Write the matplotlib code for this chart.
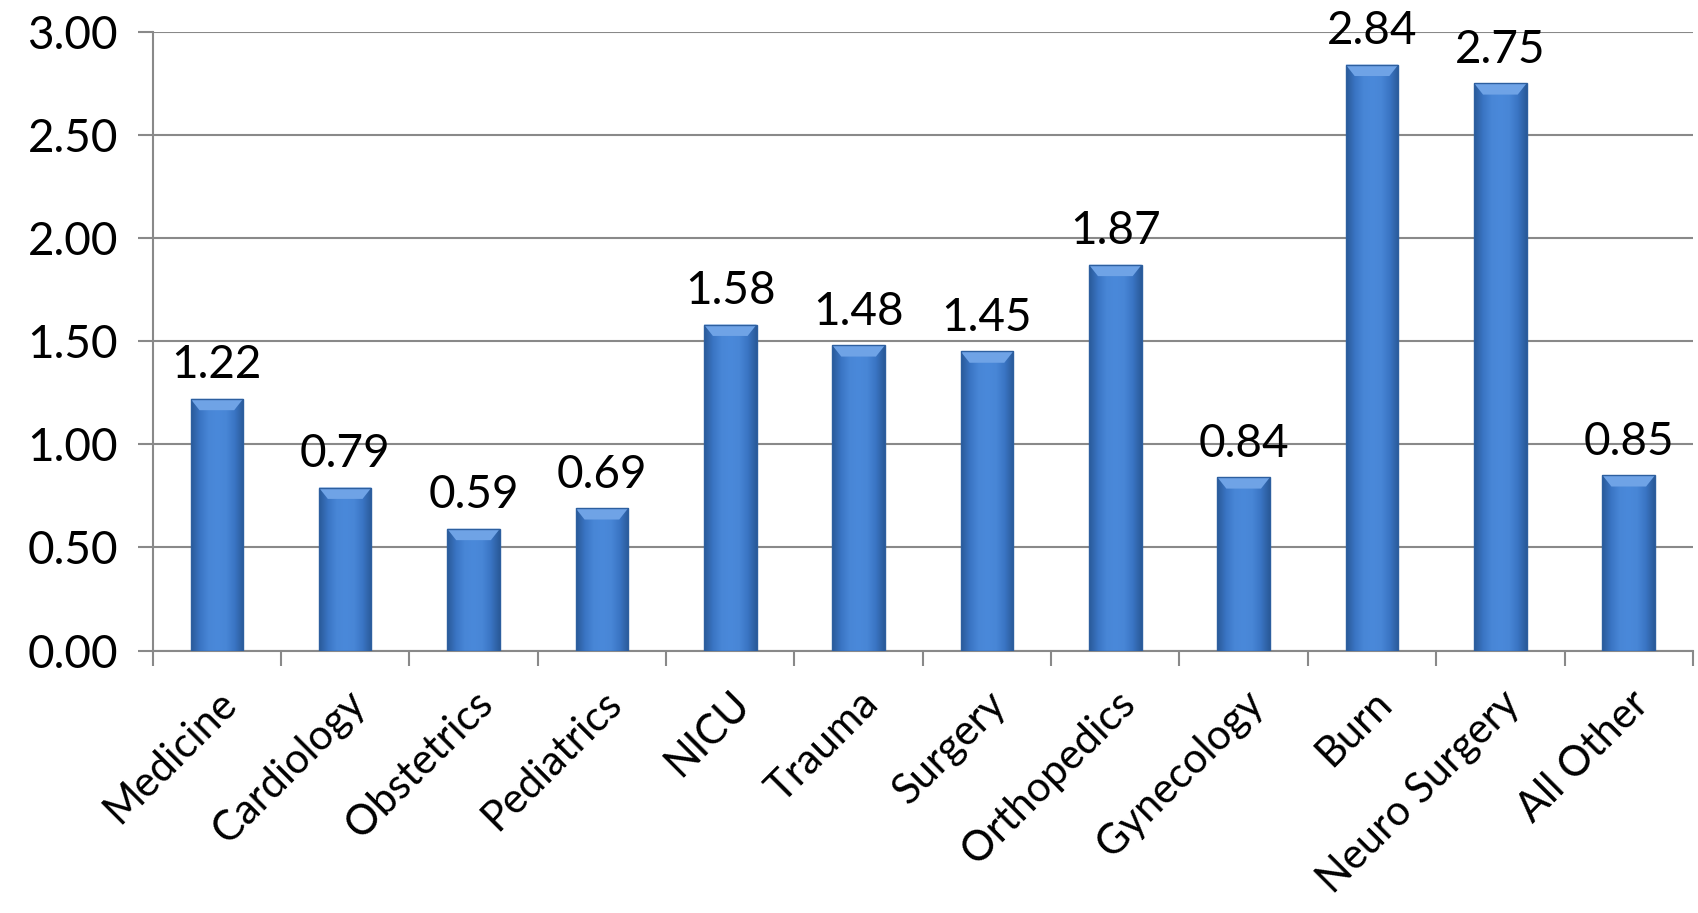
import numpy as np
import matplotlib
matplotlib.use("Agg")
import matplotlib.pyplot as plt
from matplotlib.patches import Rectangle, Polygon
from matplotlib.colors import LinearSegmentedColormap

# service lines and their values
services = ["Medicine", "Cardiology", "Obstetrics", "Pediatrics", "NICU", "Trauma",
            "Surgery", "Orthopedics", "Gynecology", "Burn", "Neuro Surgery", "All Other"]
values = [1.22, 0.79, 0.59, 0.69, 1.58, 1.48, 1.45, 1.87, 0.84, 2.84, 2.75, 0.85]
y_ticks = [0.0, 0.5, 1.0, 1.5, 2.0, 2.5, 3.0]

plt.rcParams['font.family'] = ['Lato', 'DejaVu Sans']
grid_col = '#898989'
fs = 33

fig = plt.figure(figsize=(16.98, 9.13), dpi=100)
ax = fig.add_axes([0.0899, 0.2875, 0.9071, 0.6778])

x = np.arange(len(values))
width = 0.41

# horizontal shading across each bar: dark edges, lighter middle
bar_cmap = LinearSegmentedColormap.from_list(
    'bar', ['#2a5a99', '#3a75c4', '#4886d6', '#4a89da', '#4886d6', '#3a75c4', '#2a5a99'])
shade = np.linspace(0, 1, 64).reshape(1, -1)

bars = ax.bar(x, values, width=width, color='none', edgecolor='none', zorder=3)
for rect in bars:
    x0, w, h = rect.get_x(), rect.get_width(), rect.get_height()
    im = ax.imshow(shade, cmap=bar_cmap, aspect='auto', extent=[x0, x0 + w, 0, h],
                   zorder=3, interpolation='bicubic')
    im.set_clip_path(rect)
    # bevelled top
    bh, bw = 0.055, 0.07
    ax.add_patch(Polygon([[x0, h], [x0 + w, h], [x0 + w - bw, h - bh], [x0 + bw, h - bh]],
                         closed=True, facecolor='#6fa3e6', edgecolor='none', zorder=4))
    # thin darker outline
    ax.add_patch(Rectangle((x0, 0), w, h, facecolor='none', edgecolor='#2d5f9f',
                           linewidth=1.0, zorder=5))
    ax.annotate(f"{h:.2f}", (x0 + w / 2, h), xytext=(0, 9), textcoords='offset points',
                ha='center', va='bottom', fontsize=fs, color='black', zorder=6)

ax.set_xlim(-0.5, len(values) - 0.5)
ax.set_ylim(0, 3.0)

ax.set_yticks(y_ticks)
ax.set_yticklabels([f"{v:.2f}" for v in y_ticks], fontsize=fs)
ax.yaxis.grid(True, color=grid_col, linewidth=1.5, zorder=0)
ax.set_axisbelow(True)

ax.set_xticks(x)
ax.set_xticklabels(services, rotation=45, ha='right', rotation_mode='anchor', fontsize=30)
ax.set_xticks(np.arange(-0.5, len(values)), minor=True)
ax.tick_params(axis='x', which='major', length=0, pad=24)
ax.tick_params(axis='x', which='minor', length=11, width=1.5, color=grid_col, direction='out')
ax.tick_params(axis='y', length=11, width=1.5, color=grid_col, direction='out', pad=14)

for side in ['top', 'right']:
    ax.spines[side].set_visible(False)
for side in ['left', 'bottom']:
    ax.spines[side].set_color(grid_col)
    ax.spines[side].set_linewidth(1.5)

fig.savefig('out.png', dpi=100, facecolor='white')
